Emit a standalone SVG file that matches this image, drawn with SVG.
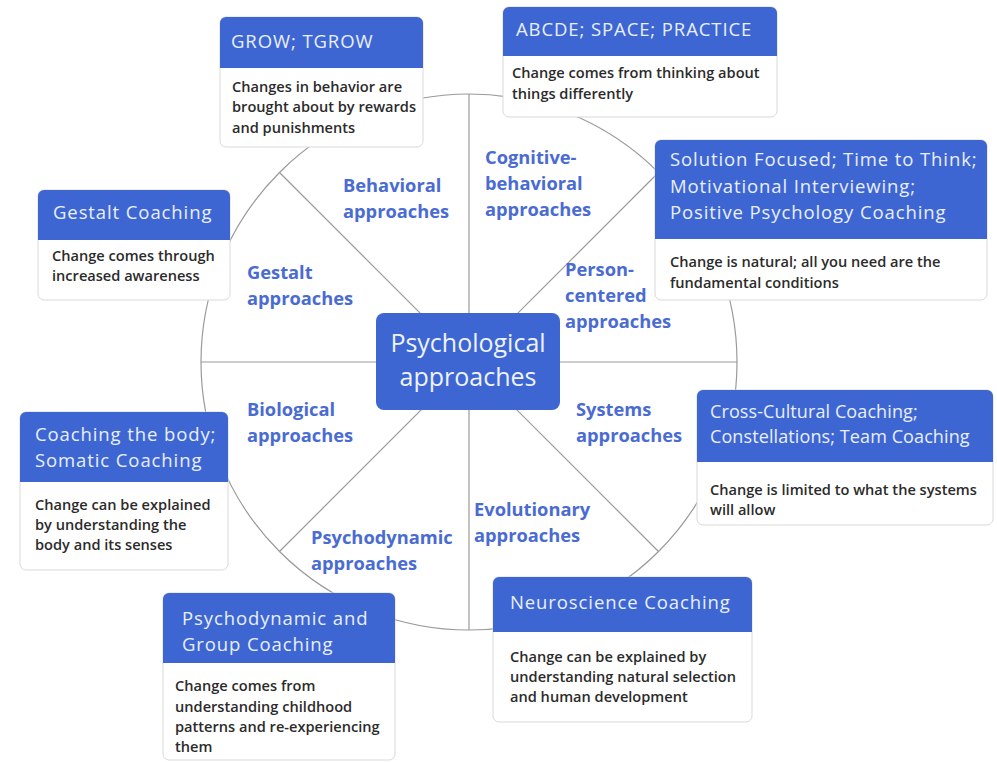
<svg xmlns="http://www.w3.org/2000/svg" width="997" height="762" viewBox="0 0 997 762">
<style>
.card{fill:#fff;stroke:#d9d9d9;stroke-width:1}
.hd{fill:#3d66d3}
.ht{font-family:"Open Sans",Lato,sans-serif;font-size:18.5px;letter-spacing:0.9px;fill:#e9effd}
.ht2{font-family:"Open Sans",Lato,sans-serif;font-size:18px;letter-spacing:0.1px;fill:#e9effd}
.bt{font-family:"Open Sans",Lato,sans-serif;font-size:14.6px;font-weight:600;fill:#2b2b2b}
.lb{font-family:"Open Sans",Lato,sans-serif;font-size:18.3px;font-weight:700;fill:#4a6bd2}
.ct{font-family:"Open Sans",Lato,sans-serif;font-size:25px;fill:#eef2fd}
.ln{stroke:#9a9a9a;stroke-width:1.2;fill:none}
</style>
<rect width="997" height="762" fill="#fff"/>
<g id="connectors">
<circle class="ln" cx="469" cy="362" r="268"/>
<line class="ln" x1="469" y1="94" x2="469" y2="630"/>
<line class="ln" x1="201" y1="362" x2="737" y2="362"/>
<line class="ln" x1="279.5" y1="172.5" x2="658.5" y2="551.5"/>
<line class="ln" x1="658.5" y1="172.5" x2="279.5" y2="551.5"/>
</g>
<g id="center">
<rect x="376" y="313" width="184" height="97" rx="8" fill="#3d66d3"/>
<text class="ct" x="468" y="352" text-anchor="middle">Psychological</text>
<text class="ct" x="468" y="386" text-anchor="middle">approaches</text>
</g>
<g id="labels">
<text class="lb" x="343" y="192">Behavioral</text>
<text class="lb" x="343" y="218">approaches</text>
<text class="lb" x="485" y="164">Cognitive-</text>
<text class="lb" x="485" y="190">behavioral</text>
<text class="lb" x="485" y="216">approaches</text>
<text class="lb" x="247" y="279">Gestalt</text>
<text class="lb" x="247" y="305">approaches</text>
<text class="lb" x="565" y="276">Person-</text>
<text class="lb" x="565" y="302">centered</text>
<text class="lb" x="565" y="328">approaches</text>
<text class="lb" x="247" y="416">Biological</text>
<text class="lb" x="247" y="442">approaches</text>
<text class="lb" x="576" y="416">Systems</text>
<text class="lb" x="576" y="442">approaches</text>
<text class="lb" x="474" y="516">Evolutionary</text>
<text class="lb" x="474" y="542">approaches</text>
<text class="lb" x="311" y="544">Psychodynamic</text>
<text class="lb" x="311" y="570">approaches</text>
</g>
<g id="grow">
<rect class="card" x="220" y="17" width="203" height="130" rx="6"/>
<path class="hd" d="M220,68 V23 a6,6 0 0 1 6,-6 H417 a6,6 0 0 1 6,6 V68 Z"/>
<text class="ht" x="231" y="48">GROW; TGROW</text>
<text class="bt" x="232" y="92">Changes in behavior are</text>
<text class="bt" x="232" y="112">brought about by rewards</text>
<text class="bt" x="232" y="133">and punishments</text>
</g>
<g id="abcde">
<rect class="card" x="503" y="7" width="274" height="110" rx="6"/>
<path class="hd" d="M503,56 V13 a6,6 0 0 1 6,-6 H771 a6,6 0 0 1 6,6 V56 Z"/>
<text class="ht" x="516" y="36">ABCDE; SPACE; PRACTICE</text>
<text class="bt" x="512" y="78">Change comes from thinking about</text>
<text class="bt" x="512" y="99">things differently</text>
</g>
<g id="solution">
<rect class="card" x="655" y="140" width="332" height="160" rx="6"/>
<path class="hd" d="M655,239 V146 a6,6 0 0 1 6,-6 H981 a6,6 0 0 1 6,6 V239 Z"/>
<text class="ht" x="670" y="166">Solution Focused; Time to Think;</text>
<text class="ht" x="670" y="193">Motivational Interviewing;</text>
<text class="ht" x="670" y="219">Positive Psychology Coaching</text>
<text class="bt" x="670" y="267">Change is natural; all you need are the</text>
<text class="bt" x="670" y="288">fundamental conditions</text>
</g>
<g id="gestalt">
<rect class="card" x="38" y="190" width="192" height="110" rx="6"/>
<path class="hd" d="M38,240 V196 a6,6 0 0 1 6,-6 H224 a6,6 0 0 1 6,6 V240 Z"/>
<text class="ht" x="53" y="219">Gestalt Coaching</text>
<text class="bt" x="52" y="261">Change comes through</text>
<text class="bt" x="52" y="281">increased awareness</text>
</g>
<g id="body">
<rect class="card" x="20" y="412" width="208" height="158" rx="6"/>
<path class="hd" d="M20,482 V418 a6,6 0 0 1 6,-6 H222 a6,6 0 0 1 6,6 V482 Z"/>
<text class="ht" x="35" y="441">Coaching the body;</text>
<text class="ht" x="35" y="467">Somatic Coaching</text>
<text class="bt" x="35" y="510">Change can be explained</text>
<text class="bt" x="35" y="530">by understanding the</text>
<text class="bt" x="35" y="550">body and its senses</text>
</g>
<g id="cross">
<rect class="card" x="697" y="390" width="296" height="135" rx="6"/>
<path class="hd" d="M697,462 V396 a6,6 0 0 1 6,-6 H987 a6,6 0 0 1 6,6 V462 Z"/>
<text class="ht2" x="710" y="418">Cross-Cultural Coaching;</text>
<text class="ht2" x="710" y="443">Constellations; Team Coaching</text>
<text class="bt" x="710" y="495">Change is limited to what the systems</text>
<text class="bt" x="710" y="515">will allow</text>
</g>
<g id="psychodynamic">
<rect class="card" x="163" y="593" width="232" height="167" rx="6"/>
<path class="hd" d="M163,663 V599 a6,6 0 0 1 6,-6 H389 a6,6 0 0 1 6,6 V663 Z"/>
<text class="ht" x="182" y="625">Psychodynamic and</text>
<text class="ht" x="182" y="651">Group Coaching</text>
<text class="bt" x="175" y="691">Change comes from</text>
<text class="bt" x="175" y="712">understanding childhood</text>
<text class="bt" x="175" y="732">patterns and re-experiencing</text>
<text class="bt" x="175" y="752">them</text>
</g>
<g id="neuro">
<rect class="card" x="493" y="577" width="259" height="145" rx="6"/>
<path class="hd" d="M493,632 V583 a6,6 0 0 1 6,-6 H746 a6,6 0 0 1 6,6 V632 Z"/>
<text class="ht" x="510" y="609">Neuroscience Coaching</text>
<text class="bt" x="510" y="662">Change can be explained by</text>
<text class="bt" x="510" y="682">understanding natural selection</text>
<text class="bt" x="510" y="702">and human development</text>
</g>
</svg>
